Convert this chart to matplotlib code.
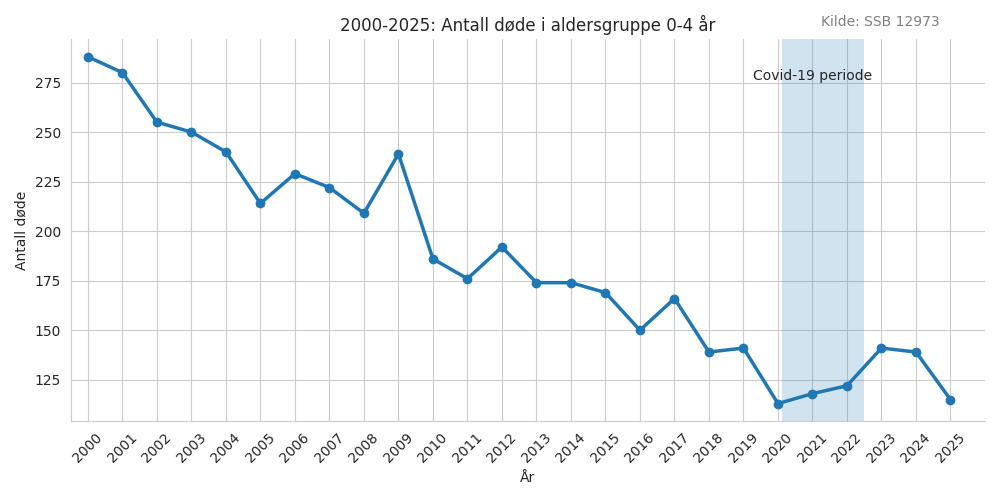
import matplotlib
matplotlib.use('Agg')
import matplotlib.pyplot as plt
import seaborn as sns

years = list(range(2000, 2026))
deaths = [288, 280, 255, 250, 240, 214, 229, 222, 209, 239,
          186, 176, 192, 174, 174, 169, 150, 166, 139, 141,
          113, 118, 122, 141, 139, 115]

covid_start = 2020.12
covid_end = 2022.5

sns.set_style('whitegrid')

fig, ax = plt.subplots(figsize=(10, 5), dpi=100)
# covid period shading
ax.axvspan(covid_start, covid_end, color='#1f77b4', alpha=0.2, linewidth=0)
ax.text(2021, 278.5, 'Covid-19 periode', ha='center', va='center', fontsize=10, color='#262626')
# main line
ax.plot(years, deaths, marker='o', color='#1f77b4', linewidth=2.5, markersize=6)

ax.set_title('2000-2025: Antall døde i aldersgruppe 0-4 år', fontsize=12)
ax.set_xlabel('År')
ax.set_ylabel('Antall døde')
ax.set_xticks(years)
ax.set_xticklabels([str(y) for y in years], rotation=45)
ax.set_xlim(1999.5, 2026)
sns.despine(ax=ax)

fig.text(0.88, 0.955, 'Kilde: SSB 12973', ha='center', va='center', fontsize=10, color='gray')

fig.tight_layout()
fig.savefig('out.png')
